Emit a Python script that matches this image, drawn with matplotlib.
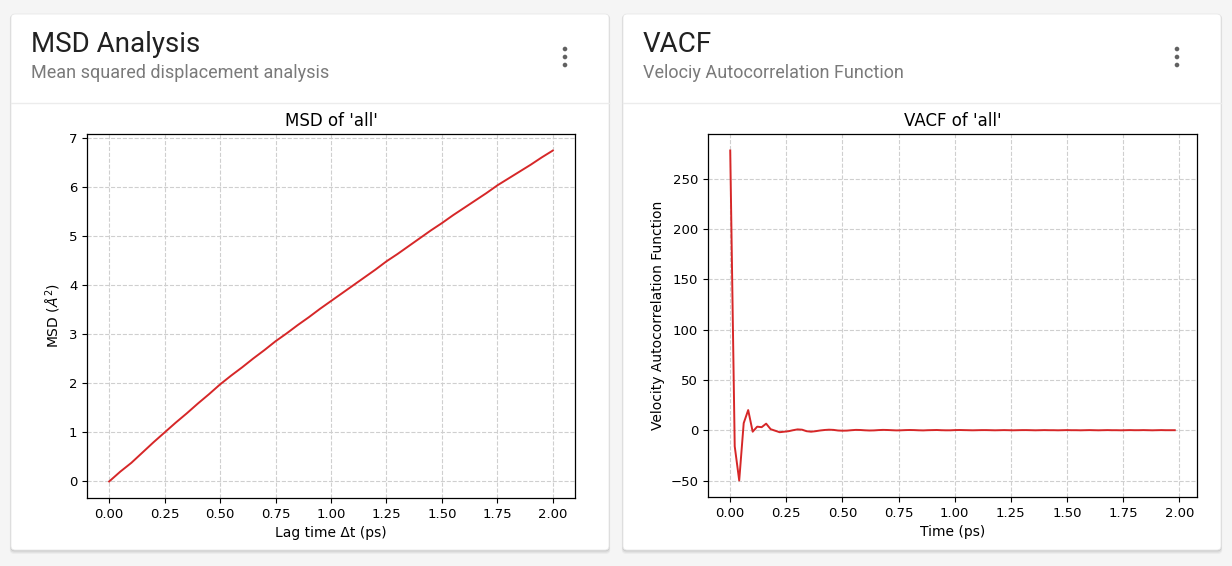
import numpy as np
import matplotlib
matplotlib.use("Agg")
import matplotlib.pyplot as plt
from matplotlib.patches import FancyBboxPatch, Circle

# ---- data ----
msd_time = [0.00, 0.05, 0.10, 0.15, 0.20, 0.25, 0.30, 0.35, 0.40, 0.45,
            0.50, 0.55, 0.60, 0.65, 0.70, 0.75, 0.80, 0.85, 0.90, 0.95,
            1.00, 1.05, 1.10, 1.15, 1.20, 1.25, 1.30, 1.35, 1.40, 1.45,
            1.50, 1.55, 1.60, 1.65, 1.70, 1.75, 1.80, 1.85, 1.90, 1.95,
            2.00]
msd_values = [0.00, 0.20, 0.38, 0.59, 0.80, 1.00, 1.20, 1.39, 1.59, 1.78,
              1.98, 2.16, 2.33, 2.51, 2.68, 2.86, 3.02, 3.19, 3.35, 3.52,
              3.68, 3.84, 4.00, 4.16, 4.32, 4.49, 4.64, 4.80, 4.96, 5.12,
              5.27, 5.43, 5.58, 5.73, 5.88, 6.04, 6.18, 6.32, 6.46, 6.61,
              6.75]

vacf_dt = 0.02
vacf_values = [278.0, -16.0, -50.0, 7.0, 20.0, -1.5, 3.5, 3.0, 6.5, 1.0,
               -0.5, -2.0, -1.5, -1.0, 0.0, 0.8, 0.5, -1.0, -1.5, -1.0,
               -0.3, 0.2, 0.5, 0.3, -0.3, -0.5, -0.4, 0.0, 0.3, 0.2,
               -0.1, -0.3, -0.2, 0.1, 0.3, 0.2, 0.0, -0.2, -0.1, 0.1,
               0.2, 0.1, -0.1, -0.2, 0.0, 0.1, 0.2, 0.0, -0.1, -0.1,
               0.1, 0.2, 0.1, 0.0, -0.1, 0.0, 0.1, 0.1, 0.0, -0.1,
               0.0, 0.1, 0.0, -0.1, 0.0, 0.1, 0.1, 0.0, -0.1, 0.0,
               0.1, 0.0, 0.0, -0.1, 0.0, 0.1, 0.0, 0.0, -0.1, 0.0,
               0.1, 0.0, -0.1, 0.0, 0.1, 0.0, 0.0, -0.1, 0.0, 0.1,
               0.0, 0.0, 0.1, 0.0, -0.1, 0.0, 0.1, 0.0, 0.0, 0.0]
vacf_time = [i * vacf_dt for i in range(len(vacf_values))]

x_ticks = [0.00, 0.25, 0.50, 0.75, 1.00, 1.25, 1.50, 1.75, 2.00]

cards = [
    {"x": 11, "w": 598, "title": "MSD Analysis",
     "subtitle": "Mean squared displacement analysis"},
    {"x": 623, "w": 598, "title": "VACF",
     "subtitle": "Velociy Autocorrelation Function"},
]

W, H = 1232, 566
fig = plt.figure(figsize=(W / 100, H / 100), dpi=100)
fig.patch.set_facecolor("#f5f5f5")

bg = fig.add_axes([0, 0, 1, 1])
bg.set_xlim(0, W)
bg.set_ylim(H, 0)
bg.axis("off")

card_top, card_bot = 14, 550
for c in cards:
    # soft shadow
    for off, a in [(3, 0.04), (2, 0.06), (1, 0.08)]:
        bg.add_patch(FancyBboxPatch((c["x"] - off * 0.4, card_top + off * 0.3),
                                    c["w"] + off * 0.8, card_bot - card_top + off,
                                    boxstyle="round,pad=0,rounding_size=4",
                                    fc="black", ec="none", alpha=a))
    bg.add_patch(FancyBboxPatch((c["x"], card_top), c["w"], card_bot - card_top,
                                boxstyle="round,pad=0,rounding_size=4",
                                fc="white", ec="#e8e8e8", lw=0.6))
    bg.plot([c["x"], c["x"] + c["w"]], [103, 103], color="#ececec", lw=1)
    bg.text(c["x"] + 20, 44, c["title"], fontsize=20, family="Roboto",
            color="#212121", va="center", ha="left")
    bg.text(c["x"] + 20, 73, c["subtitle"], fontsize=13, family="Roboto",
            color="#7a7a7a", va="center", ha="left")
    dx = c["x"] + c["w"] - 44
    for dy in (49, 57, 65):
        bg.add_patch(Circle((dx, dy), 2.3, fc="#616161", ec="none"))


def style_axes(ax):
    ax.grid(True, linestyle="--", color="#cfcfcf", linewidth=0.8)
    ax.set_axisbelow(True)
    ax.tick_params(labelsize=9.5)
    ax.set_xticks(x_ticks)
    for s in ax.spines.values():
        s.set_color("black")
        s.set_linewidth(0.9)


ax1 = fig.add_axes([87 / W, (H - 498) / H, 488 / W, 364 / H])
ax1.plot(msd_time, msd_values, color="#d62728", lw=1.4)
style_axes(ax1)
ax1.set_title("MSD of 'all'", fontsize=12)
ax1.set_xlabel("Lag time Δt (ps)", fontsize=10)
ax1.set_ylabel(r"MSD ($Å^2$)", fontsize=10)

ax2 = fig.add_axes([708 / W, (H - 497) / H, 489 / W, 363 / H])
ax2.plot(vacf_time, vacf_values, color="#d62728", lw=1.4)
style_axes(ax2)
ax2.set_yticks([-50, 0, 50, 100, 150, 200, 250])
ax2.set_title("VACF of 'all'", fontsize=12)
ax2.set_xlabel("Time (ps)", fontsize=10)
ax2.set_ylabel("Velocity Autocorrelation Function", fontsize=10)

fig.savefig("out.png", dpi=100, facecolor=fig.get_facecolor())
